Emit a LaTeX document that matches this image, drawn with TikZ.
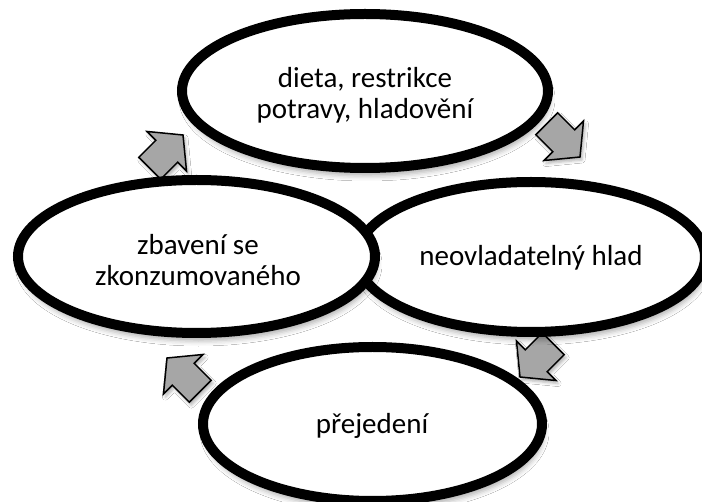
\documentclass[tikz,border=0pt]{standalone}
\usepackage{fontspec}
\setmainfont{Carlito}
\usetikzlibrary{shapes.geometric,shadows.blur}
\definecolor{arrowgray}{RGB}{166,166,166}
\begin{document}
\begin{tikzpicture}[x=1pt,y=-1pt,
  stageshadow/.style={blur shadow={shadow xshift=2pt, shadow yshift=-8pt,
      shadow blur radius=5pt, shadow opacity=30}},
  arrowshadow/.style={blur shadow={shadow xshift=2pt, shadow yshift=-3pt,
      shadow blur radius=3pt, shadow opacity=30}},
  stage/.style={ellipse, draw=black, line width=10pt, fill=white,
      inner sep=0pt, stageshadow},
  stagetext/.style={font=\fontsize{29}{31}\selectfont, align=center, inner sep=0pt},
  flowarrow/.style={fill=arrowgray, draw=black, line width=1.5pt,
      line join=miter, arrowshadow},
  cyclearrow/.pic={
    \path[flowarrow] (0,0) -- (-23,28) -- (-23,15.5) -- (-47,15.5)
      -- (-47,-15.5) -- (-23,-15.5) -- (-23,-28) -- cycle;
  }]
  \useasboundingbox[fill=white] (0,0) rectangle (702,502);

  % block arrows of the cycle, drawn beneath the stages
  \pic[rotate=45]  at (183,135) {cyclearrow};
  \pic[rotate=-45] at (580,157) {cyclearrow};
  \pic[rotate=225] at (520,377) {cyclearrow};
  \pic[rotate=135] at (167,358) {cyclearrow};

  % stages
  \node[stage, minimum width=366, minimum height=154] (diet)   at (365,91) {};
  \node[stage, minimum width=348, minimum height=150] (hunger) at (531,257) {};
  \node[stage, minimum width=339, minimum height=154] (binge)  at (372.5,424) {};
  \node[stage, minimum width=357, minimum height=153] (purge)  at (196.5,256.5) {};

  \node[stagetext] (diettext)   at (365,95)  {dieta, restrikce\\potravy, hladovění};
  \node[stagetext] (hungertext) at (531,258) {neovladatelný hlad};
  \node[stagetext] (bingetext)  at (372,426) {přejedení};
  \node[stagetext] (purgetext)  at (198,260) {zbavení se\\zkonzumovaného};
\end{tikzpicture}
\end{document}
